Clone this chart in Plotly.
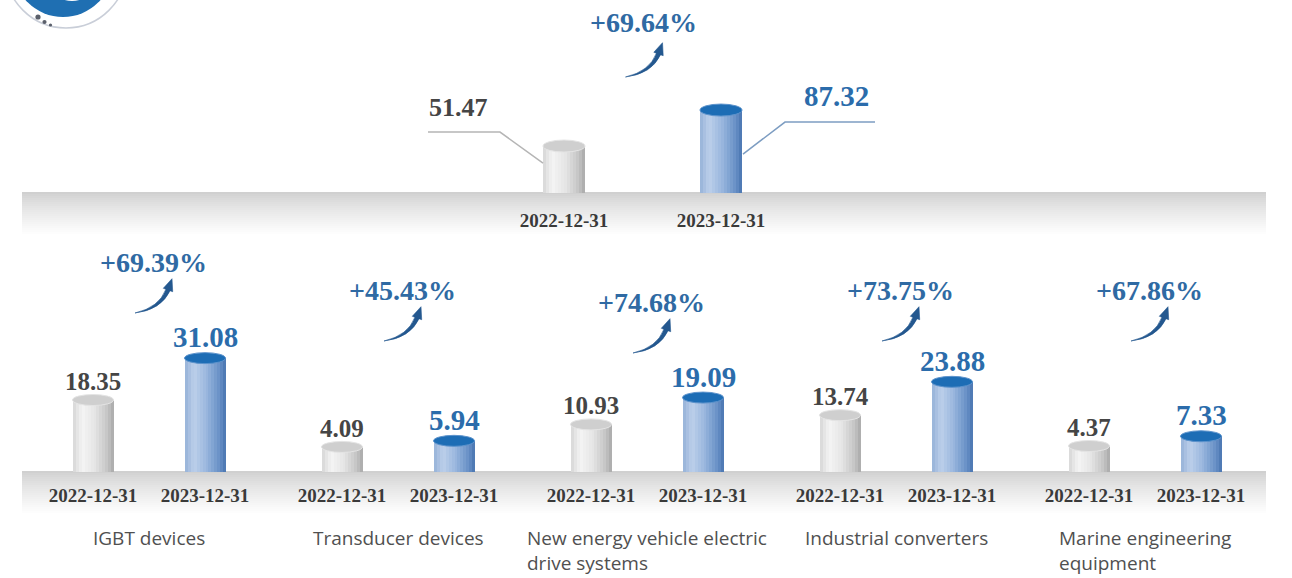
import plotly.graph_objects as go

# ---------------- data ----------------
DATES = ["2022-12-31", "2023-12-31"]
TOP_VALUES = [51.47, 87.32]
TOP_PCT = "+69.64%"

CATEGORIES = [
    "IGBT devices",
    "Transducer devices",
    "New energy vehicle electric<br>drive systems",
    "Industrial converters",
    "Marine engineering<br>equipment",
]
VALUES_2022 = [18.35, 4.09, 10.93, 13.74, 4.37]
VALUES_2023 = [31.08, 5.94, 19.09, 23.88, 7.33]
PCT_LABELS = ["+69.39%", "+45.43%", "+74.68%", "+73.75%", "+67.86%"]

# ---------------- style / layout ----------------
W, H = 1292, 578


def py(p):
    return 1 - p / H


def px(p):
    return p / W


SERIF = "Liberation Serif"
SANS = "Open Sans"
PCT_COLOR = "#2f6aa3"
BLUE_TXT = "#2b6cab"
GRAY_TXT = "#454545"
DATE_TXT = "#3a3a3a"
CAT_TXT = "#505050"
SWOOSH = "#24588f"

GRAY_STOPS = [(0.0, (214, 214, 214)), (0.22, (244, 244, 244)), (0.55, (228, 228, 228)),
              (0.85, (196, 196, 196)), (1.0, (168, 168, 168))]
BLUE_STOPS = [(0.0, (150, 178, 216)), (0.22, (188, 207, 234)), (0.55, (150, 180, 220)),
              (0.85, (104, 144, 198)), (1.0, (72, 116, 176))]
GRAY_TOP = ("#cfcfcf", "#e4e4e4")
BLUE_TOP = ("#1d6db5", "#5d93cc")

N_STRIPS = 14


def lerp_col(stops, t):
    for (t0, c0), (t1, c1) in zip(stops[:-1], stops[1:]):
        if t0 <= t <= t1:
            f = (t - t0) / (t1 - t0) if t1 > t0 else 0
            c = [round(a + (b - a) * f) for a, b in zip(c0, c1)]
            return "rgb(%d,%d,%d)" % tuple(c)
    return "rgb(%d,%d,%d)" % stops[-1][1]


fig = go.Figure()
shapes = []
annotations = []

# ---- subplot geometry ----
TOP_DOM_X = (400, 900)
TOP_X0_PX, TOP_STEP = 564, 157
TOP_DOM_Y = (20, 193)
TOP_FLOOR, TOP_SCALE = 4.7, 1.004
TOP_BAR_W = 42 / TOP_STEP

BOT_STEP = 112
BOT_DOM_Y = (240, 472)
BOT_FLOOR, BOT_SCALE = -3.53, 3.29
BOT_BAR_W = 41 / BOT_STEP
GROUP_C0, GROUP_PITCH, GROUP_HALF = 149, 249, 124.5
PCT_Y_PX = [262, 290, 302, 290, 290]


def add_cylinders(xa, ya, values, floor, bar_w, ell_h):
    for k in range(N_STRIPS):
        t = (k + 0.5) / N_STRIPS
        sw = bar_w / N_STRIPS
        width = sw * (1.25 if k < N_STRIPS - 1 else 1.0)
        fig.add_trace(go.Bar(
            x=[0, 1], y=[v - floor for v in values], base=floor,
            width=width, offset=-bar_w / 2 + k * sw,
            marker=dict(color=[lerp_col(GRAY_STOPS, t), lerp_col(BLUE_STOPS, t)], line_width=0),
            xaxis=xa, yaxis=ya, showlegend=False, hoverinfo="skip",
        ))
    for i, v in enumerate(values):
        fill, edge = (GRAY_TOP, BLUE_TOP)[i]
        shapes.append(dict(
            type="circle", xref=xa, yref=ya, x0=i - bar_w / 2, x1=i + bar_w / 2,
            ysizemode="pixel", yanchor=v, y0=-ell_h / 2, y1=ell_h / 2,
            fillcolor=fill, line=dict(color=edge, width=1), layer="above",
        ))


def add_swoosh(xa, xanchor, cy, xshift):
    sx = xshift
    S = (-18 + sx, -51)
    C = (8 + sx, -48)
    E = (15 + sx, -28)
    d = (E[0] - C[0], E[1] - C[1])
    ln = (d[0] ** 2 + d[1] ** 2) ** 0.5
    d = (d[0] / ln, d[1] / ln)
    p = (d[1], -d[0])
    E1 = (E[0] + 2.2 * p[0], E[1] + 2.2 * p[1])
    E2 = (E[0] - 2.2 * p[0], E[1] - 2.2 * p[1])
    C2 = (C[0] - 2.0, C[1] + 2.5)
    tip = (E[0] + 12 * d[0], E[1] + 12 * d[1])
    h1 = (E[0] + 5 * p[0], E[1] + 5 * p[1])
    h2 = (E[0] - 5 * p[0], E[1] - 5 * p[1])
    f = lambda q: "%.1f,%.1f" % q
    path = ("M%s Q%s %s L%s Q%s %s Z M%s L%s L%s Z" %
            (f(S), f(C), f(E1), f(E2), f(C2), f(S), f(h1), f(tip), f(h2)))
    shapes.append(dict(type="path", xref=xa, yref="paper", xsizemode="pixel", ysizemode="pixel",
                       xanchor=xanchor, yanchor=py(cy), path=path,
                       fillcolor=SWOOSH, line=dict(color=SWOOSH, width=0.6), layer="above"))


axis_common = dict(showgrid=False, zeroline=False, showline=False, fixedrange=True)

# ---------------- top chart ----------------
fig.update_layout(
    xaxis=dict(domain=[px(TOP_DOM_X[0]), px(TOP_DOM_X[1])],
               range=[(TOP_DOM_X[0] - TOP_X0_PX) / TOP_STEP, (TOP_DOM_X[1] - TOP_X0_PX) / TOP_STEP],
               tickvals=[0, 1], ticktext=DATES, ticks="", ticklabelstandoff=14,
               tickfont=dict(family=SERIF, size=19, color=DATE_TXT, weight="bold"),
               anchor="y", **axis_common),
    yaxis=dict(domain=[py(TOP_DOM_Y[1]), py(TOP_DOM_Y[0])],
               range=[TOP_FLOOR, TOP_FLOOR + (TOP_DOM_Y[1] - TOP_DOM_Y[0]) / TOP_SCALE],
               showticklabels=False, anchor="x", **axis_common),
)
add_cylinders("x", "y", TOP_VALUES, TOP_FLOOR, TOP_BAR_W, 12)

annotations.append(dict(x=0, y=TOP_VALUES[0], xref="x", yref="y", text=f"{TOP_VALUES[0]:.2f}",
                        showarrow=False, xshift=-106, yshift=39, yanchor="middle",
                        font=dict(family=SERIF, size=26, color=GRAY_TXT, weight="bold")))
annotations.append(dict(x=1, y=TOP_VALUES[1], xref="x", yref="y", text=f"{TOP_VALUES[1]:.2f}",
                        showarrow=False, xshift=115, yshift=14, yanchor="middle",
                        font=dict(family=SERIF, size=29, color=BLUE_TXT, weight="bold")))
shapes.append(dict(type="path", xref="x", yref="y", xsizemode="pixel", ysizemode="pixel",
                   xanchor=0, yanchor=TOP_VALUES[0], path="M-136,14 L-64,14 L-21,-17",
                   line=dict(color="#b5b5b5", width=1.5), layer="above"))
shapes.append(dict(type="path", xref="x", yref="y", xsizemode="pixel", ysizemode="pixel",
                   xanchor=1, yanchor=TOP_VALUES[1], path="M22,-44 L64,-12 L154,-12",
                   line=dict(color="#7d9dc2", width=1.5), layer="above"))
annotations.append(dict(x=0.5, y=py(22), xref="x", yref="paper", text=TOP_PCT, showarrow=False,
                        xshift=1, yanchor="middle",
                        font=dict(family=SERIF, size=28, color=PCT_COLOR, weight="bold")))
add_swoosh("x", 0.5, 26, 1)

# ---------------- bottom charts ----------------
for g in range(5):
    n = g + 2
    xa, ya = f"x{n}", f"y{n}"
    c = GROUP_C0 + GROUP_PITCH * g
    gray_px = c - BOT_STEP / 2
    fig.update_layout(**{
        f"xaxis{n}": dict(domain=[px(c - GROUP_HALF), px(c + GROUP_HALF)],
                          range=[(c - GROUP_HALF - gray_px) / BOT_STEP, (c + GROUP_HALF - gray_px) / BOT_STEP],
                          tickvals=[0, 1], ticktext=DATES, ticks="", ticklabelstandoff=10,
                          tickfont=dict(family=SERIF, size=19, color=DATE_TXT, weight="bold"),
                          anchor=ya, **axis_common),
        f"yaxis{n}": dict(domain=[py(BOT_DOM_Y[1]), py(BOT_DOM_Y[0])],
                          range=[BOT_FLOOR, BOT_FLOOR + (BOT_DOM_Y[1] - BOT_DOM_Y[0]) / BOT_SCALE],
                          showticklabels=False, anchor=xa, **axis_common),
    })
    vals = [VALUES_2022[g], VALUES_2023[g]]
    add_cylinders(xa, ya, vals, BOT_FLOOR, BOT_BAR_W, 11)
    annotations.append(dict(x=0, y=vals[0], xref=xa, yref=ya, text=f"{vals[0]:.2f}", showarrow=False,
                            yanchor="bottom", yshift=3,
                            font=dict(family=SERIF, size=25, color=GRAY_TXT, weight="bold")))
    annotations.append(dict(x=1, y=vals[1], xref=xa, yref=ya, text=f"{vals[1]:.2f}", showarrow=False,
                            yanchor="bottom", yshift=3,
                            font=dict(family=SERIF, size=29, color=BLUE_TXT, weight="bold")))
    annotations.append(dict(x=0.5, y=py(PCT_Y_PX[g]), xref=xa, yref="paper", text=PCT_LABELS[g],
                            showarrow=False, xshift=4, yanchor="middle",
                            font=dict(family=SERIF, size=28, color=PCT_COLOR, weight="bold")))
    add_swoosh(xa, 0.5, PCT_Y_PX[g], 4)
    annotations.append(dict(x=0.5, y=py(523), xref=f"{xa} domain", yref="paper", text=CATEGORIES[g],
                            showarrow=False, xanchor="center", yanchor="top", align="left",
                            font=dict(family=SANS, size=19, color=CAT_TXT)))

# ---------------- gradient floor bands ----------------
for top in (192, 471):
    steps = 22
    for s in range(steps):
        t = s / (steps - 1)
        g_val = round(208 + (255 - 208) * (t ** 0.8))
        shapes.append(dict(type="rect", xref="paper", yref="paper", x0=px(22), x1=px(1266),
                           y0=py(top + 2 * s + 2.4), y1=py(top + 2 * s), line_width=0,
                           fillcolor="rgb(%d,%d,%d)" % (g_val, g_val, g_val), layer="below"))

# ---------------- logo (partially cut off at top-left) ----------------
def circ(cx, cy, r, **kw):
    d = dict(type="circle", xref="paper", yref="paper", x0=px(cx - r), x1=px(cx + r),
             y0=py(cy + r), y1=py(cy - r), layer="above")
    d.update(kw)
    return d


shapes.append(circ(66, -33, 61, line=dict(color="#c9ced8", width=1.5), fillcolor="rgba(0,0,0,0)"))
shapes.append(circ(63, -33, 50, line=dict(color="#1f6fb2", width=0), fillcolor="#1f6fb2"))
shapes.append(circ(72, -26, 27, line=dict(color="#ffffff", width=0), fillcolor="#ffffff"))
shapes.append(circ(38, 17, 2.6, line_width=0, fillcolor="#5b606b"))
shapes.append(circ(44.5, 22, 2.1, line_width=0, fillcolor="#5b606b"))
shapes.append(circ(50.5, 25, 1.6, line_width=0, fillcolor="#5b606b"))

fig.update_layout(
    width=W, height=H, margin=dict(l=0, r=0, t=0, b=0),
    paper_bgcolor="white", plot_bgcolor="rgba(0,0,0,0)",
    barmode="overlay", bargap=0, showlegend=False,
    shapes=shapes, annotations=annotations,
)

fig.write_html("out.html")
